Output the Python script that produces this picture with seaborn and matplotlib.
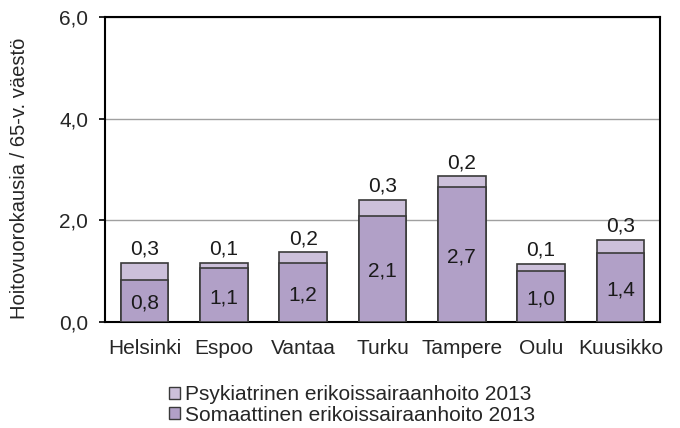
import matplotlib
matplotlib.use("Agg")
import matplotlib.pyplot as plt
import seaborn as sns
import pandas as pd
from matplotlib.patches import Patch

cities = ["Helsinki", "Espoo", "Vantaa", "Turku", "Tampere", "Oulu", "Kuusikko"]
somaattinen = [0.83, 1.06, 1.16, 2.09, 2.66, 1.01, 1.36]
psykiatrinen = [0.34, 0.11, 0.21, 0.31, 0.21, 0.14, 0.26]
series_names = ["Psykiatrinen erikoissairaanhoito 2013", "Somaattinen erikoissairaanhoito 2013"]
yticks = [0.0, 2.0, 4.0, 6.0]

sns.set_style("white")
plt.rcParams["font.family"] = ["Liberation Sans", "DejaVu Sans"]

c_psy = "#ccc0da"
c_som = "#b1a0c7"
edge = "#3a3a3a"

df = pd.DataFrame({"city": cities, "som": somaattinen, "psy": psykiatrinen})
df["total"] = df["som"] + df["psy"]

fig = plt.figure(figsize=(6.8, 4.28), dpi=100)
ax = fig.add_axes([105/680, 1-322/428, 555/680, 305/428])

sns.barplot(data=df, x="city", y="total", color=c_psy, edgecolor=edge, linewidth=1.2,
            width=0.6, saturation=1, ax=ax, zorder=3)
sns.barplot(data=df, x="city", y="som", color=c_som, edgecolor=edge, linewidth=1.2,
            width=0.6, saturation=1, ax=ax, zorder=4)

fs = 15
for i, row in df.iterrows():
    ax.text(i, row["som"] / 2 - 0.05, f"{row['som']:.1f}".replace(".", ","), ha="center", va="center",
            fontsize=fs, color="#1a1a1a", zorder=5)
    ax.text(i, row["total"] + 0.08, f"{row['psy']:.1f}".replace(".", ","), ha="center", va="bottom",
            fontsize=fs, color="#1a1a1a", zorder=5)

ax.set_ylim(0, 6)
ax.set_xlim(-0.5, len(cities) - 0.5)
ax.set_yticks(yticks)
ax.set_yticklabels([f"{v:.1f}".replace(".", ",") for v in yticks], fontsize=fs)
ax.yaxis.grid(True, color="#a0a0a0", linewidth=1, zorder=0)
ax.set_axisbelow(True)
ax.set_xlabel("")
ax.set_ylabel("Hoitovuorokausia / 65-v. väestö", fontsize=14.5)
ax.yaxis.set_label_coords(-0.137, 0.47)

ax.set_xticks(range(len(cities)))
ax.set_xticklabels(cities, fontsize=fs)
ax.tick_params(axis="x", length=0, pad=12)
ax.set_xticks([i + 0.5 for i in range(-1, len(cities))], minor=True)
ax.tick_params(axis="x", which="minor", length=4, width=1.2, direction="out", color="black")
ax.tick_params(axis="y", length=4, width=1.2, direction="out", left=True, color="black", pad=8)

for s in ax.spines.values():
    s.set_visible(True)
    s.set_color("black")
    s.set_linewidth(1.5)

handles = [Patch(facecolor=c_psy, edgecolor=edge, label=series_names[0]),
           Patch(facecolor=c_som, edgecolor=edge, label=series_names[1])]
fig.legend(handles=handles, loc="center", bbox_to_anchor=(352/680, 1-405/428), frameon=False,
           fontsize=15, handlelength=0.5, handleheight=0.5, handletextpad=0.25,
           labelspacing=0.05, borderpad=0)

fig.savefig("out.png", dpi=100)
